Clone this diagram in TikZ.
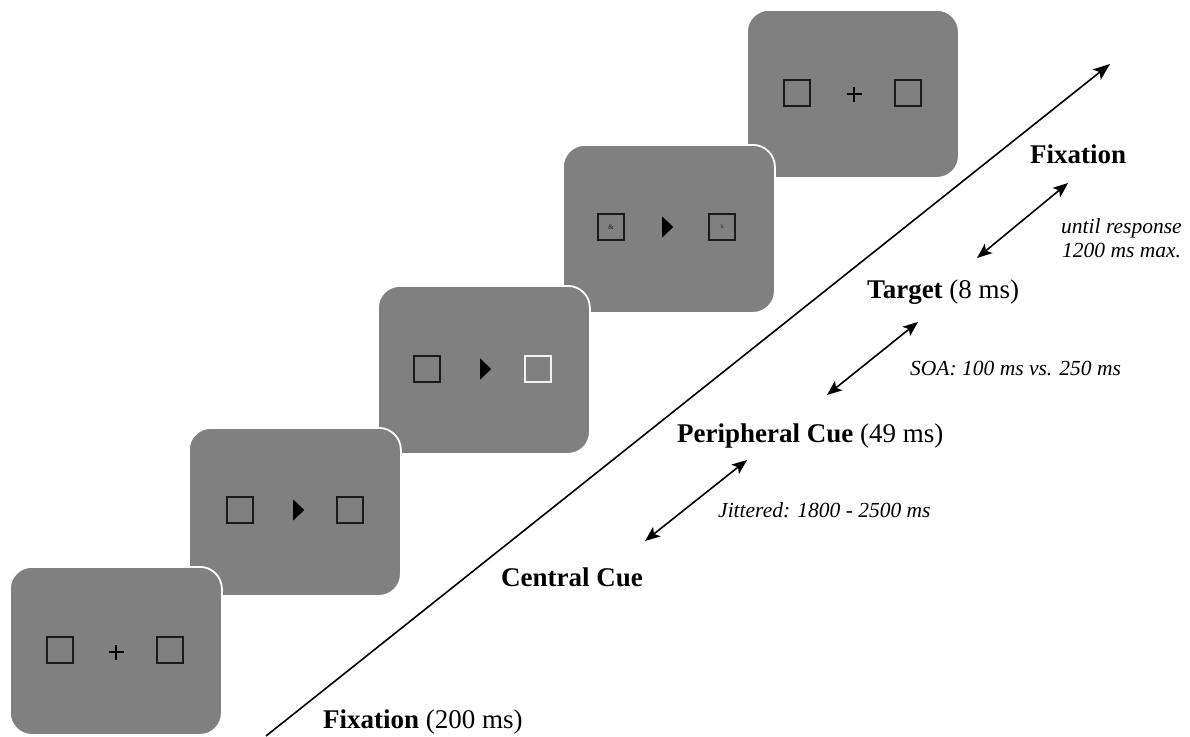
\documentclass[tikz,border=0pt]{standalone}
\usepackage{fontspec}
\setmainfont{Liberation Serif}
\usetikzlibrary{arrows.meta,shapes.geometric}
\definecolor{scrgray}{HTML}{808080}
\definecolor{sqdark}{HTML}{1A1A1A}
\definecolor{sqlight}{HTML}{F2F2F2}
\begin{document}
\begin{tikzpicture}[x=1pt,y=-1pt,
  screen/.style={draw=white, line width=1.8pt, fill=scrgray, rounded corners=22pt,
    minimum width=212pt, minimum height=168pt, inner sep=0pt, anchor=north west},
  sq/.style={draw=sqdark, line width=2.2pt, minimum size=26pt, inner sep=0pt, anchor=west},
  cuetri/.style={isosceles triangle, isosceles triangle stretches, fill=black,
    minimum height=11pt, minimum width=21pt, inner sep=0pt, anchor=west},
  plusmark/.style={draw=black, line width=2.6pt},
  lab/.style={font=\fontsize{27}{30}\selectfont, inner sep=0pt, anchor=base west},
  ilab/.style={font=\fontsize{21.5}{24}\selectfont\itshape, inner sep=0pt, anchor=base west},
  tiny/.style={font=\fontsize{7}{8}\selectfont, text=sqdark, inner sep=0pt},
  timeline/.style={line width=1.6pt, -{Stealth[length=17pt,width=13pt,inset=4pt]}},
  dur/.style={line width=1.6pt, {Stealth[length=15pt,width=12pt,inset=3.5pt]}-{Stealth[length=15pt,width=12pt,inset=3.5pt]}}
]
\useasboundingbox (0,0) rectangle (1190,736);
\fill[white] (0,0) rectangle (1190,736);

% timeline
\coordinate (t0) at (266,736);
\coordinate (t1) at (1110,64);
\draw[timeline] (t0) -- (t1);

% screen 5 (top)
\node[screen] (s5) at (746,9) {};
\node[sq] (s5l) at ([xshift=37pt,yshift=-84pt]s5.north west) {};
\node[sq] (s5r) at ([xshift=148pt,yshift=-84pt]s5.north west) {};
\coordinate (s5c) at ([xshift=108pt,yshift=-85pt]s5.north west);
\draw[plusmark] ([xshift=-7.5pt]s5c) -- ([xshift=7.5pt]s5c);
\draw[plusmark] ([yshift=-7.5pt]s5c) -- ([yshift=7.5pt]s5c);

% screen 4
\node[screen] (s4) at (562,144) {};
\node[sq] (s4l) at ([xshift=35pt,yshift=-83pt]s4.north west) {};
\node[sq] (s4r) at ([xshift=146pt,yshift=-83pt]s4.north west) {};
\node[tiny] (s4la) at (s4l.center) {\&};
\node[tiny] (s4ra) at (s4r.center) {x};
\node[cuetri] (s4t) at ([xshift=100pt,yshift=-83pt]s4.north west) {};

% screen 3
\node[screen] (s3) at (377,285) {};
\node[sq] (s3l) at ([xshift=36pt,yshift=-84pt]s3.north west) {};
\node[sq, draw=sqlight] (s3r) at ([xshift=147pt,yshift=-84pt]s3.north west) {};
\node[cuetri] (s3t) at ([xshift=103pt,yshift=-84pt]s3.north west) {};

% screen 2
\node[screen] (s2) at (188,427) {};
\node[sq] (s2l) at ([xshift=38pt,yshift=-83pt]s2.north west) {};
\node[sq] (s2r) at ([xshift=148pt,yshift=-83pt]s2.north west) {};
\node[cuetri] (s2t) at ([xshift=105pt,yshift=-83pt]s2.north west) {};

% screen 1 (bottom)
\node[screen] (s1) at (9,566) {};
\node[sq] (s1l) at ([xshift=37pt,yshift=-84pt]s1.north west) {};
\node[sq] (s1r) at ([xshift=147pt,yshift=-84pt]s1.north west) {};
\coordinate (s1c) at ([xshift=107pt,yshift=-86pt]s1.north west);
\draw[plusmark] ([xshift=-7.5pt]s1c) -- ([xshift=7.5pt]s1c);
\draw[plusmark] ([yshift=-7.5pt]s1c) -- ([yshift=7.5pt]s1c);

% labels
\node[lab] (l1) at (323,728) {\textbf{Fixation} (200 ms)};
\node[lab] (l2) at (501,586) {\textbf{Central Cue}};
\node[lab] (l3) at (677,442) {\textbf{Peripheral Cue} (49 ms)};
\node[lab] (l4) at (867,298) {\textbf{Target} (8 ms)};
\node[lab] (l5) at (1030,163) {\textbf{Fixation}};

\node[ilab] (d1) at (718,517) {Jittered: 1800 - 2500 ms};
\node[ilab] (d2) at (910,375) {SOA: 100 ms vs. 250 ms};
\node[ilab] (d3a) at (1061,233) {until response};
\node[ilab] (d3b) at (1062,257) {1200 ms max.};

% duration arrows
\coordinate (a1s) at (645,541); \coordinate (a1e) at (747,460);
\coordinate (a2s) at (827,395); \coordinate (a2e) at (918,322);
\coordinate (a3s) at (977,258); \coordinate (a3e) at (1068,183);
\draw[dur] (a1s) -- (a1e);
\draw[dur] (a2s) -- (a2e);
\draw[dur] (a3s) -- (a3e);
\end{tikzpicture}
\end{document}
